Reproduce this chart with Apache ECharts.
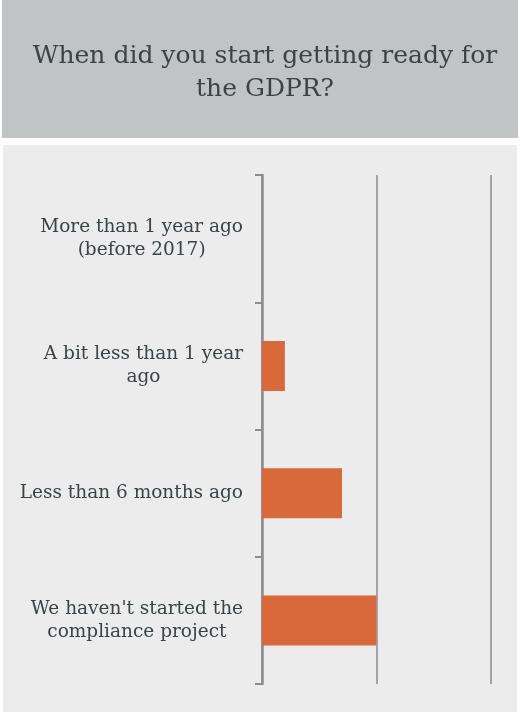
<!DOCTYPE html>
<html>
<head>
<meta charset="utf-8">
<script src="https://cdn.jsdelivr.net/npm/echarts@6/dist/echarts.min.js"></script>
<style>
  html, body { margin: 0; padding: 0; background: #ffffff; }
  #chart { width: 520px; height: 712px; }
</style>
</head>
<body>
<div id="chart"></div>
<script>
const titleText = 'When did you start getting ready for\nthe GDPR?'
const categories = [
    'More than 1 year ago\n(before 2017)',
    'A bit less than 1 year\nago',
    'Less than 6 months ago',
    "We haven't started the\ncompliance project"
]
const shares = [0, 10, 35, 50]
const axisMax = 100
const axisStep = 50

const serif = '"DejaVu Serif", "Liberation Serif", serif'
const chart = echarts.init(document.getElementById('chart'), null, { renderer: 'canvas' })

// each line centred inside the label block, block right-aligned to the axis
const centredLines = v => v.split('\n').map(l => '{c|' + l + '}').join('\n')

chart.setOption({
    animation: false,
    backgroundColor: '#ffffff',
    graphic: [
        { type: 'rect', shape: { x: 2, y: 0, width: 516, height: 138 }, style: { fill: '#c1c4c5' }, z: -10 },
        { type: 'rect', shape: { x: 3, y: 145, width: 514, height: 567 }, style: { fill: '#ebeceb' }, z: -10 }
    ],
    title: {
        text: titleText,
        left: 260,
        top: 35,
        textAlign: 'center',
        textStyle: {
            fontFamily: serif,
            fontWeight: 'normal',
            fontSize: 25,
            lineHeight: 33,
            color: '#3a4347'
        }
    },
    grid: { left: 262, right: 29.5, top: 175, bottom: 28 },
    xAxis: {
        type: 'value',
        min: 0,
        max: axisMax,
        interval: axisStep,
        axisLabel: { show: false },
        axisTick: { show: false },
        axisLine: { show: false },
        splitLine: { lineStyle: { color: '#8a8a8a', width: 1.5 } }
    },
    yAxis: {
        type: 'category',
        inverse: true,
        data: categories,
        axisLine: { show: true, lineStyle: { color: '#8c8c8c', width: 2.5 } },
        axisTick: { show: true, interval: 0, length: 7, lineStyle: { color: '#8c8c8c', width: 2 } },
        axisLabel: {
            margin: 19,
            align: 'right',
            formatter: centredLines,
            rich: {
                c: {
                    align: 'center',
                    fontFamily: serif,
                    fontSize: 18.5,
                    lineHeight: 23,
                    color: '#3a4347'
                }
            }
        }
    },
    series: [{
        type: 'bar',
        data: shares,
        barWidth: 50,
        itemStyle: { color: '#d9693a' }
    }]
})
</script>
</body>
</html>
